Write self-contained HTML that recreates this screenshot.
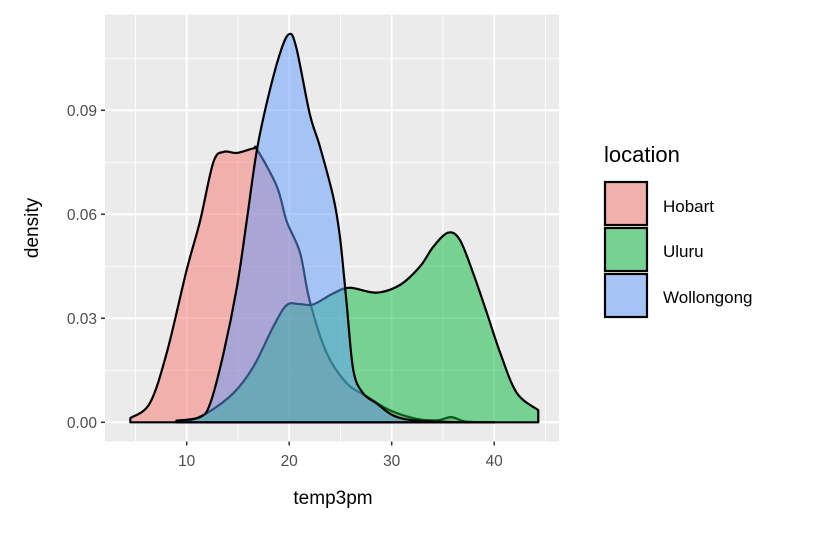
<!DOCTYPE html>
<html><head><meta charset="utf-8"><style>
body{margin:0;background:#fff}
svg text{font-family:"Liberation Sans",Arial,sans-serif}
</style></head><body>
<svg id="c" width="816" height="528" xmlns="http://www.w3.org/2000/svg">
<rect x="105" y="14.5" width="454" height="427" fill="#EBEBEB"/>
<g id="grid"></g>
<g id="series"></g>
<g id="axes"></g>
<text x="333" y="504" font-size="19" text-anchor="middle" fill="#000">temp3pm</text>
<text transform="translate(38,228) rotate(-90)" font-size="19" text-anchor="middle" fill="#000">density</text>
<g>
<text x="604" y="162" font-size="22" fill="#000">location</text>
<g><rect x="605" y="182" width="42" height="43" fill="#EBEBEB"/><rect x="605" y="182" width="42" height="43" fill="#F8766D" fill-opacity="0.5" stroke="#000" stroke-width="2.2"/><text x="663" y="212" font-size="17">Hobart</text></g>
<g><rect x="605" y="228" width="42" height="43" fill="#EBEBEB"/><rect x="605" y="228" width="42" height="43" fill="#00BA38" fill-opacity="0.5" stroke="#000" stroke-width="2.2"/><text x="663" y="257" font-size="17">Uluru</text></g>
<g><rect x="605" y="274" width="42" height="43" fill="#EBEBEB"/><rect x="605" y="274" width="42" height="43" fill="#619CFF" fill-opacity="0.5" stroke="#000" stroke-width="2.2"/><text x="663" y="303" font-size="17">Wollongong</text></g>
</g>
</svg>
<script>
const xTicks=[10,20,30,40];
const xMinor=[5,15,25,35,45];
const yTicks=[0,0.03,0.06,0.09];
const yTickLabels=["0.00","0.03","0.06","0.09"];
const yMinor=[0.015,0.045,0.075,0.105];
const hobartX=[4.5,6.4,8.05,10,11.3,12.6,13.6,14.9,16.5,16.9,18.8,19.75,21.05,22,23.65,25.6,27.6,29.8,32.4,34.5,35.8,37.3,40];
const hobartY=[0.0012,0.0055,0.020,0.044,0.058,0.075,0.078,0.0777,0.079,0.0785,0.068,0.058,0.049,0.035,0.020,0.0113,0.0074,0.0035,0.001,0.0006,0.0015,0.0002,0];
const uluruX=[9,10,11.95,14.55,16.5,18.45,19.75,21,22.35,24.3,25.9,28.5,30.8,32.75,34.05,35.5,36.65,37.95,39.3,40.6,42.2,44.3];
const uluruY=[0,0.0002,0.0026,0.0084,0.016,0.0276,0.0338,0.0341,0.034,0.0372,0.0388,0.0374,0.0396,0.0449,0.0506,0.0547,0.0526,0.043,0.0314,0.0199,0.0085,0.0035];
const wolX=[9,11.3,12.3,13.6,14.9,15.85,16.8,17.8,19.1,20,20.7,22,23,24.3,24.95,25.6,26.25,27.2,28.5,30.2,32.4,37,40];
const wolY=[0.0005,0.0015,0.0055,0.020,0.039,0.058,0.0777,0.092,0.1064,0.112,0.108,0.089,0.0795,0.065,0.0535,0.0344,0.0151,0.0084,0.0055,0.0019,0.0005,0,0];
const X=v=>186.7+(v-10)*10.25;
const Y=d=>422.3-d*3467;
const NS="http://www.w3.org/2000/svg";
function mk(t,a,p){const e=document.createElementNS(NS,t);for(const k in a)e.setAttribute(k,a[k]);p.appendChild(e);return e;}
const grid=document.getElementById('grid'),axes=document.getElementById('axes'),ser=document.getElementById('series');
xMinor.forEach(v=>{const l=mk('line',{x1:X(v),x2:X(v),y1:14.5,y2:441.5,stroke:'#fff','stroke-width':0.9},grid);
});
yMinor.forEach(v=>{const l=mk('line',{x1:105,x2:559,y1:Y(v),y2:Y(v),stroke:'#fff','stroke-width':0.9},grid);
});
xTicks.forEach(v=>{const l=mk('line',{x1:X(v),x2:X(v),y1:14.5,y2:441.5,stroke:'#fff','stroke-width':1.9},grid);

const t=mk('line',{x1:X(v),x2:X(v),y1:441.5,y2:445.5,stroke:'#333','stroke-width':1.5},axes);

const tx=mk('text',{x:X(v),y:466,'font-size':15.5,'text-anchor':'middle',fill:'#4D4D4D'},axes);tx.textContent=v;
});
yTicks.forEach((v,i)=>{const l=mk('line',{x1:105,x2:559,y1:Y(v),y2:Y(v),stroke:'#fff','stroke-width':1.9},grid);

const t=mk('line',{x1:101,x2:105,y1:Y(v),y2:Y(v),stroke:'#333','stroke-width':1.5},axes);

const tx=mk('text',{x:97,y:Y(v)+5.5,'font-size':15.5,'text-anchor':'end',fill:'#4D4D4D'},axes);tx.textContent=yTickLabels[i];
});
function smooth(xs,ys){const p=xs.map((x,i)=>[X(x),Y(ys[i])]);let d='M'+p[0][0]+','+p[0][1];
for(let i=0;i<p.length-1;i++){const p0=p[Math.max(0,i-1)],p1=p[i],p2=p[i+1],p3=p[Math.min(p.length-1,i+2)];
const c1=[p1[0]+(p2[0]-p0[0])/6,p1[1]+(p2[1]-p0[1])/6],c2=[p2[0]-(p3[0]-p1[0])/6,p2[1]-(p3[1]-p1[1])/6];
d+=`C${c1[0]},${Math.min(c1[1],Y(0))},${c2[0]},${Math.min(c2[1],Y(0))},${p2[0]},${p2[1]}`;}return [d,p];}
function area(xs,ys,col,name){const [d,p]=smooth(xs,ys);
const f=mk('path',{d:d+`L${p[p.length-1][0]},${Y(0)}L${p[0][0]},${Y(0)}Z`,fill:col,'fill-opacity':0.5,stroke:'#000','stroke-width':2.2,'stroke-linejoin':'round'},ser);
}
area(hobartX,hobartY,'#F8766D','density-hobart');
area(uluruX,uluruY,'#00BA38','density-uluru');
area(wolX,wolY,'#619CFF','density-wollongong');
</script>
</body></html>
